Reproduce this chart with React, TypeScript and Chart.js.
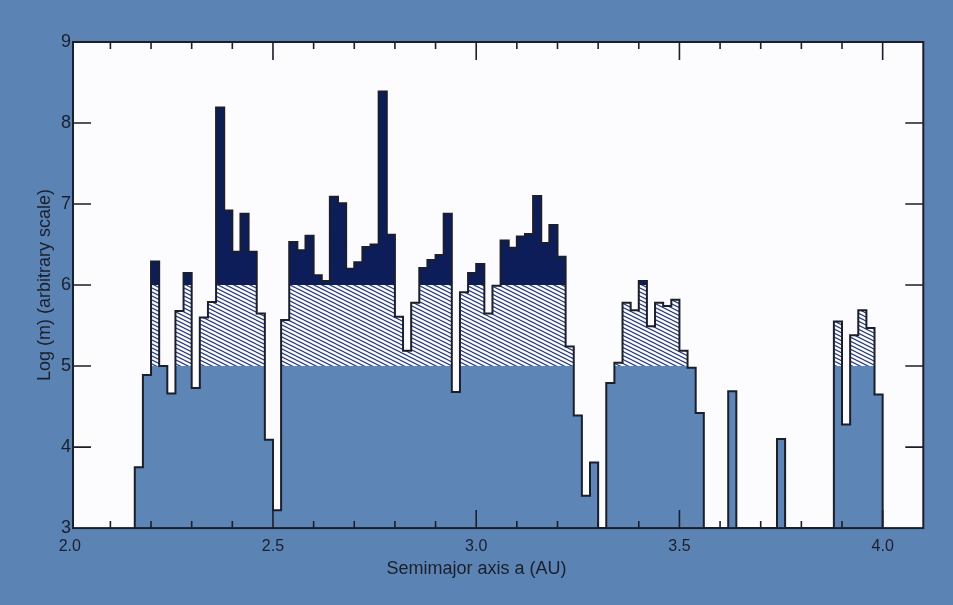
import React, { useEffect, useRef } from "react";
import { Chart, registerables } from "chart.js";

Chart.register(...registerables);

// Left edge of each 0.02 AU bin (AU)
const binStartAU: number[] = [
  2.16, 2.18, 2.2, 2.22, 2.24, 2.26, 2.28, 2.3, 2.32, 2.34, 2.36, 2.38, 2.4, 2.42, 2.44, 2.46, 2.48, 2.5,
  2.52, 2.54, 2.56, 2.58, 2.6, 2.62, 2.64, 2.66, 2.68, 2.7, 2.72, 2.74, 2.76, 2.78, 2.8, 2.82, 2.84, 2.86,
  2.88, 2.9, 2.92, 2.94, 2.96, 2.98, 3.0, 3.02, 3.04, 3.06, 3.08, 3.1, 3.12, 3.14, 3.16, 3.18, 3.2, 3.22,
  3.24, 3.26, 3.28, 3.3, 3.32, 3.34, 3.36, 3.38, 3.4, 3.42, 3.44, 3.46, 3.48, 3.5, 3.52, 3.54, 3.56, 3.58,
  3.6, 3.62, 3.64, 3.66, 3.68, 3.7, 3.72, 3.74, 3.76, 3.78, 3.8, 3.82, 3.84, 3.86, 3.88, 3.9, 3.92, 3.94,
  3.96, 3.98,
];
const lastBinEndAU = 4.0;

// Log(m) per bin (null = empty bin)
const logMass: (number | null)[] = [
  3.75, 4.89, 6.29, 5.0, 4.66, 5.68, 6.15, 4.73, 5.6, 5.79, 8.19, 6.92, 6.41, 6.88, 6.41, 5.65, 4.09, 3.22,
  5.57, 6.53, 6.43, 6.61, 6.12, 6.05, 7.09, 7.01, 6.2, 6.28, 6.47, 6.5, 8.39, 6.62, 5.61, 5.19, 5.78, 6.21,
  6.31, 6.37, 6.88, 4.68, 5.91, 6.15, 6.26, 5.65, 5.99, 6.55, 6.46, 6.6, 6.63, 7.1, 6.52, 6.74, 6.35, 5.24,
  4.39, 3.4, 3.81, null, 4.79, 5.04, 5.78, 5.69, 6.05, 5.49, 5.78, 5.74, 5.82, 5.19, 4.98, 4.42, null, null,
  null, 4.69, null, null, null, null, null, 4.1, null, null, null, null, null, null, 5.55, 4.28, 5.38, 5.69,
  5.47, 4.65,
];

// Shading thresholds (log m)
const hatchFrom = 5;
const navyFrom = 6;

const xTickValues = [2.0, 2.5, 3.0, 3.5, 4.0];
const xMinorTickValues = [2.1, 2.2, 2.3, 2.4, 2.6, 2.7, 2.8, 2.9, 3.1, 3.2, 3.3, 3.4, 3.6, 3.7, 3.8, 3.9, 4.1];
const xMajorTickValues = [2.5, 3.0, 3.5, 4.0];
const yTickValues = [3, 4, 5, 6, 7, 8, 9];
const yInnerTickValues = [4, 5, 6, 7, 8];

const X_TITLE = "Semimajor axis a (AU)";
const Y_TITLE = "Log (m) (arbitrary scale)";

const X_MIN = 2.008;
const X_MAX = 4.1;
const Y_MIN = 3;
const Y_MAX = 9;

const PAGE_BG = "#5b84b5";
const BAR_BLUE = "#5d86b7";
const NAVY = "#0d1d5a";
const HATCH_INK = "#2c417e";
const PAPER = "#fcfbfd";
const INK = "#1b1e2b";
const FONT = "'Liberation Sans', Arial, Helvetica, sans-serif";

function stepLayer(cap: number) {
  const pts: { x: number; y: number }[] = [{ x: binStartAU[0], y: Y_MIN }];
  binStartAU.forEach((x, i) => {
    const v = logMass[i] ?? Y_MIN;
    const next = i + 1 < binStartAU.length ? binStartAU[i + 1] : lastBinEndAU;
    // each bin: rise at its left edge, hold to its right edge
    pts.push({ x, y: Math.min(v, cap) });
    pts.push({ x: next, y: Math.min(v, cap) });
  });
  pts.push({ x: lastBinEndAU, y: Y_MIN });
  return pts;
}

function makeHatch(): CanvasPattern | string {
  const c = document.createElement("canvas");
  c.width = 8;
  c.height = 4;
  const g = c.getContext("2d");
  if (!g) return "#aab8d8";
  g.fillStyle = PAPER;
  g.fillRect(0, 0, 8, 4);
  g.strokeStyle = HATCH_INK;
  g.lineWidth = 1.25;
  for (const [dx, dy] of [[0, 0], [0, -4], [0, 4], [-8, 0], [8, 0]]) {
    g.beginPath();
    g.moveTo(dx, dy);
    g.lineTo(dx + 8, dy + 4);
    g.stroke();
  }
  const p = g.createPattern(c, "repeat");
  return p ?? "#aab8d8";
}

const framePlugin = {
  id: "frameAndTicks",
  beforeDraw(chart: any) {
    const { ctx, chartArea: a } = chart;
    ctx.save();
    ctx.fillStyle = PAPER;
    ctx.fillRect(a.left, a.top, a.right - a.left, a.bottom - a.top);
    ctx.restore();
  },
  afterDatasetsDraw(chart: any) {
    const { ctx, chartArea: a, scales } = chart;
    const xs = scales.x;
    const ys = scales.y;
    ctx.save();
    ctx.strokeStyle = INK;
    ctx.lineWidth = 1.6;
    ctx.beginPath();
    for (const v of xMinorTickValues) {
      const px = xs.getPixelForValue(v);
      if (px <= a.left + 1 || px >= a.right - 1) continue;
      ctx.moveTo(px, a.bottom);
      ctx.lineTo(px, a.bottom - 7);
      ctx.moveTo(px, a.top);
      ctx.lineTo(px, a.top + 7);
    }
    for (const v of xMajorTickValues) {
      const px = xs.getPixelForValue(v);
      ctx.moveTo(px, a.bottom);
      ctx.lineTo(px, a.bottom - 18);
      ctx.moveTo(px, a.top);
      ctx.lineTo(px, a.top + 18);
    }
    for (const v of yInnerTickValues) {
      const py = ys.getPixelForValue(v);
      ctx.moveTo(a.left, py);
      ctx.lineTo(a.left + 18, py);
      ctx.moveTo(a.right, py);
      ctx.lineTo(a.right - 18, py);
    }
    ctx.stroke();
    ctx.lineWidth = 2;
    ctx.strokeRect(a.left, a.top, a.right - a.left, a.bottom - a.top);
    ctx.restore();
  },
};

export default function App() {
  const ref = useRef<HTMLCanvasElement | null>(null);

  useEffect(() => {
    const canvas = ref.current;
    if (!canvas) return;
    const hatch = makeHatch();
    const layerStyle = {
      stepped: false as const,
      borderWidth: 0,
      borderColor: "rgba(0,0,0,0)",
      fill: "start" as const,
      pointRadius: 0,
    };
    const chart = new Chart(canvas, {
      type: "line",
      data: {
        datasets: [
          {
            label: "outline",
            data: stepLayer(Infinity),
            borderColor: INK,
            borderWidth: 2,
            borderJoinStyle: "miter",
            fill: false,
            pointRadius: 0,
          },
          { label: "below 5", data: stepLayer(hatchFrom), backgroundColor: BAR_BLUE, ...layerStyle },
          { label: "5 to 6", data: stepLayer(navyFrom), backgroundColor: hatch as any, ...layerStyle },
          { label: "above 6", data: stepLayer(Infinity), backgroundColor: NAVY, ...layerStyle },
        ],
      },
      options: {
        animation: false,
        responsive: false,
        devicePixelRatio: 1,
        layout: { padding: { top: 42, left: 0, right: 0, bottom: 0 } },
        plugins: {
          legend: { display: false },
          tooltip: { enabled: false },
          title: {
            display: true,
            position: "bottom",
            text: X_TITLE,
            color: INK,
            font: { family: FONT, size: 18, weight: "normal" },
            padding: { top: 0, bottom: 25 },
          },
        },
        scales: {
          x: {
            type: "linear",
            min: X_MIN,
            max: X_MAX,
            afterBuildTicks: (s: any) => {
              s.ticks = xTickValues.map((value) => ({ value }));
            },
            afterFit: (s: any) => {
              s.height = 30.3;
            },
            ticks: {
              color: INK,
              font: { family: FONT, size: 16 },
              padding: 9,
              maxRotation: 0,
              autoSkip: false,
              callback: (v: any) => Number(v).toFixed(1),
            },
            grid: { display: false, drawTicks: false },
            border: { display: false },
          },
          y: {
            type: "linear",
            min: Y_MIN,
            max: Y_MAX,
            afterBuildTicks: (s: any) => {
              s.ticks = yTickValues.map((value) => ({ value }));
            },
            afterFit: (s: any) => {
              s.width = 73;
            },
            ticks: {
              color: INK,
              font: { family: FONT, size: 18 },
              padding: 2,
              autoSkip: false,
            },
            grid: { display: false, drawTicks: false },
            border: { display: false },
            title: {
              display: true,
              text: Y_TITLE,
              color: INK,
              font: { family: FONT, size: 18 },
              padding: { top: 34, bottom: 0 },
            },
          },
          y2: {
            type: "linear",
            position: "right",
            min: Y_MIN,
            max: Y_MAX,
            afterFit: (s: any) => {
              s.width = 29.7;
            },
            ticks: { display: false },
            grid: { display: false, drawTicks: false },
            border: { display: false },
          },
        },
      },
      plugins: [framePlugin],
    });
    return () => chart.destroy();
  }, []);

  return (
    <div
      style={{
        position: "fixed",
        left: 0,
        top: 0,
        width: 953,
        height: 605,
        background: PAGE_BG,
      }}
    >
      <canvas ref={ref} width={953} height={605} style={{ display: "block" }} />
    </div>
  );
}
